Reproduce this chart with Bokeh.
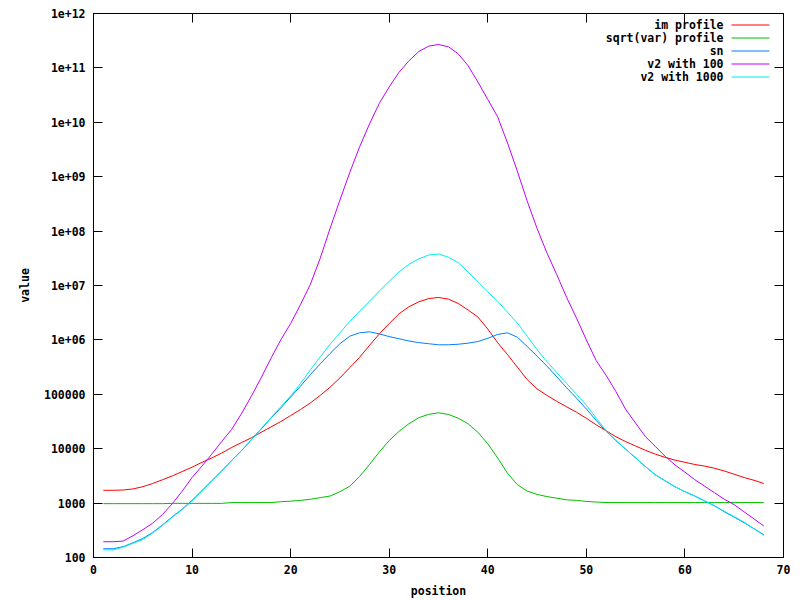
from bokeh.plotting import figure
from bokeh.models import LogAxis, LinearAxis, FixedTicker, Label, BoxAnnotation, Range1d
from bokeh.embed import file_html
from bokeh.resources import INLINE

# ---------------- data ----------------
position = list(range(1, 69))

im_profile = [
    1.72e3, 1.72e3, 1.74e3, 1.82e3, 2.00e3, 2.29e3, 2.69e3, 3.16e3, 3.80e3, 4.57e3,
    5.62e3, 6.76e3, 8.32e3, 1.05e4, 1.29e4, 1.58e4, 2.00e4, 2.51e4, 3.16e4, 4.07e4,
    5.25e4, 6.92e4, 9.55e4, 1.35e5, 2.00e5, 3.09e5, 4.79e5, 7.94e5, 1.29e6, 2.00e6,
    3.02e6, 4.07e6, 5.01e6, 5.75e6, 6.03e6, 5.62e6, 4.68e6, 3.55e6, 2.63e6, 1.58e6,
    8.91e5, 5.37e5, 3.16e5, 1.86e5, 1.26e5, 9.55e4, 7.41e4, 5.89e4, 4.68e4, 3.63e4,
    2.75e4, 2.14e4, 1.66e4, 1.35e4, 1.12e4, 9.33e3, 7.94e3, 6.92e3, 6.17e3, 5.62e3,
    5.13e3, 4.79e3, 4.37e3, 3.89e3, 3.39e3, 2.95e3, 2.63e3, 2.29e3,
]

sqrt_var_profile = [
    977, 977, 977, 977, 977, 977, 977, 989, 989, 989,
    989, 989, 989, 1023, 1023, 1023, 1023, 1023, 1059, 1084,
    1122, 1175, 1259, 1349, 1622, 2042, 3090, 5129, 8710, 1.41e4,
    2.09e4, 2.88e4, 3.72e4, 4.27e4, 4.57e4, 4.27e4, 3.63e4, 2.88e4, 2.00e4, 1.23e4,
    6761, 3548, 2188, 1660, 1445, 1318, 1230, 1148, 1122, 1072,
    1047, 1023, 1023, 1023, 1023, 1023, 1023, 1023, 1023, 1023,
    1023, 1023, 1023, 1023, 1023, 1023, 1023, 1023,
]

sn = [
    145, 145, 158, 186, 224, 288, 398, 562, 776, 1122,
    1698, 2570, 3890, 6026, 9120, 1.45e4, 2.29e4, 3.63e4, 5.62e4, 8.91e4,
    1.41e5, 2.29e5, 3.63e5, 5.62e5, 8.51e5, 1.17e6, 1.35e6, 1.41e6, 1.29e6, 1.15e6,
    1.05e6, 9.55e5, 8.91e5, 8.51e5, 8.13e5, 8.13e5, 8.32e5, 8.71e5, 9.33e5, 1.07e6,
    1.26e6, 1.35e6, 1.12e6, 7.59e5, 5.01e5, 3.31e5, 2.09e5, 1.32e5, 8.51e4, 5.37e4,
    3.31e4, 2.09e4, 1.41e4, 9772, 6761, 4677, 3311, 2570, 1995, 1622,
    1349, 1096, 891, 692, 550, 437, 339, 263,
]

v2_with_100 = [
    195, 195, 200, 251, 324, 427, 617, 977, 1660, 2951,
    4786, 7943, 1.35e4, 2.24e4, 4.37e4, 9.12e4, 2.00e5, 4.57e5, 1.00e6, 2.00e6,
    4.47e6, 1.05e7, 3.16e7, 1.12e8, 3.72e8, 1.20e9, 3.55e9, 9.33e9, 2.24e10, 4.47e10,
    8.32e10, 1.35e11, 2.00e11, 2.51e11, 2.69e11, 2.45e11, 1.82e11, 1.10e11, 5.50e10, 2.63e10,
    1.26e10, 4.17e9, 1.26e9, 3.55e8, 1.12e8, 3.98e7, 1.58e7, 6.03e6, 2.51e6, 1.00e6,
    4.17e5, 2.24e5, 1.12e5, 5.25e4, 2.95e4, 1.66e4, 1.10e4, 7244, 5012, 3715,
    2692, 2042, 1549, 1175, 933, 692, 513, 380,
]

v2_with_1000 = [
    138, 138, 155, 182, 214, 282, 389, 550, 759, 1096,
    1660, 2570, 3890, 6026, 9120, 1.45e4, 2.34e4, 3.72e4, 5.89e4, 9.33e4,
    1.58e5, 2.82e5, 4.90e5, 8.32e5, 1.35e6, 2.19e6, 3.39e6, 5.13e6, 7.94e6, 1.20e7,
    1.78e7, 2.45e7, 3.09e7, 3.63e7, 3.80e7, 3.31e7, 2.63e7, 1.78e7, 1.15e7, 7.59e6,
    5.13e6, 3.24e6, 2.04e6, 1.17e6, 6.61e5, 3.98e5, 2.51e5, 1.58e5, 1.00e5, 6.31e4,
    3.63e4, 2.14e4, 1.41e4, 9772, 6761, 4677, 3311, 2570, 1995, 1622,
    1349, 1096, 891, 708, 562, 447, 339, 257,
]

series_names = ["im profile", "sqrt(var) profile", "sn", "v2 with 100", "v2 with 1000"]
series_values = [im_profile, sqrt_var_profile, sn, v2_with_100, v2_with_1000]
series_colors = ["#ff0000", "#00c000", "#0080ff", "#c000ff", "#00eeee"]

x_ticks = [0, 10, 20, 30, 40, 50, 60, 70]
y_ticks = [10**2, 10**3, 10**4, 10**5, 10**6, 10**7, 10**8, 10**9, 10**10, 10**11, 10**12]
y_tick_labels = ["100", "1000", "10000", "100000", "1e+06", "1e+07", "1e+08",
                 "1e+09", "1e+10", "1e+11", "1e+12"]

# ---------------- style ----------------
FONT = "DejaVu Sans Mono"
FSIZE = "11.5px"
W, H = 800, 600
ML, MR, MT, MB = 93, 17, 13, 42

p = figure(width=W, height=H, y_axis_type="log",
           x_range=Range1d(0, 70), y_range=Range1d(100, 1e12),
           output_backend="svg", toolbar_location=None,
           min_border_left=ML, min_border_right=MR,
           min_border_top=MT, min_border_bottom=MB)
p.background_fill_color = "white"
p.border_fill_color = "white"
p.outline_line_color = "black"
p.outline_line_width = 1
p.xgrid.visible = False
p.ygrid.visible = False


def style_axis(ax, show_labels=True):
    ax.axis_line_color = "black"
    ax.axis_line_width = 1
    ax.major_tick_line_color = "black"
    ax.major_tick_in = 9
    ax.major_tick_out = 0
    ax.minor_tick_in = 0
    ax.minor_tick_out = 0
    ax.minor_tick_line_color = None
    ax.major_label_text_font = FONT
    ax.major_label_text_font_style = "bold"
    ax.major_label_text_color = "black"
    ax.axis_label_text_font = FONT
    ax.axis_label_text_font_style = "bold"
    ax.axis_label_text_font_size = FSIZE
    ax.axis_label_text_color = "black"
    ax.major_label_text_font_size = FSIZE
    if not show_labels:
        ax.major_label_text_font_size = "1px"
        ax.major_label_standoff = 0


xa = p.below[0]
xa.ticker = FixedTicker(ticks=x_ticks)
style_axis(xa)
xa.major_label_standoff = 7
xa.axis_label = "position"
xa.axis_label_standoff = 7

ya = p.left[0]
ya.ticker = FixedTicker(ticks=y_ticks)
ya.major_label_overrides = dict(zip(y_ticks, y_tick_labels))
style_axis(ya)
ya.major_label_standoff = 8
ya.axis_label = "value"
ya.axis_label_standoff = 9

top = LinearAxis(ticker=FixedTicker(ticks=x_ticks),
                 major_label_overrides={t: "" for t in x_ticks})
style_axis(top, show_labels=False)
p.add_layout(top, "above")

right = LogAxis(ticker=FixedTicker(ticks=y_ticks),
                major_label_overrides={t: "" for t in y_ticks})
style_axis(right, show_labels=False)
p.add_layout(right, "right")

for vals, col in zip(series_values, series_colors):
    p.line(position, vals, line_color=col, line_width=1)

# gnuplot-style key: right-aligned text followed by a line sample
frame_h = H - MT - MB
key_text_right = 630
key_sample_left = 638
key_sample_right = 676
key_first_row = frame_h - 12.5
key_step = 13
for i, (name, col) in enumerate(zip(series_names, series_colors)):
    yy = key_first_row - i * key_step
    p.add_layout(Label(x=key_text_right, y=yy, x_units="screen", y_units="screen",
                       text=name, text_align="right", text_baseline="middle",
                       text_font=FONT, text_font_style="bold", text_font_size=FSIZE,
                       text_color="black"))
    p.add_layout(BoxAnnotation(left=key_sample_left, right=key_sample_right,
                               bottom=yy - 0.5, top=yy + 0.5,
                               left_units="screen", right_units="screen",
                               bottom_units="screen", top_units="screen",
                               fill_color=col, fill_alpha=1.0, line_color=None))

open("out.html", "w").write(file_html(p, INLINE))
